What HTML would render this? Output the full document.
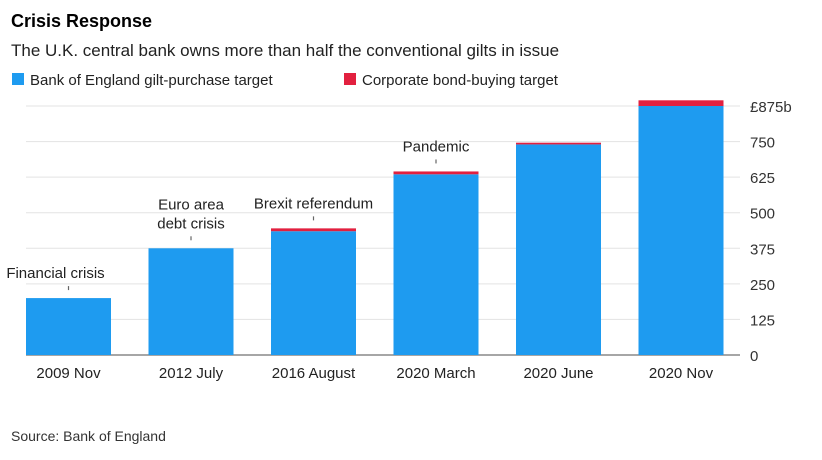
<!DOCTYPE html>
<html><head><meta charset="utf-8"><style>
body{margin:0;background:#fff;font-family:"Liberation Sans",Arial,sans-serif;}
svg text{font-family:"Liberation Sans",Arial,sans-serif;}
</style></head><body>
<svg width="822" height="455">
<text x="11" y="27" font-size="18" font-weight="bold" fill="#000">Crisis Response</text>
<text x="11" y="56" font-size="17" fill="#222">The U.K. central bank owns more than half the conventional gilts in issue</text>
<g>
<rect x="12" y="73" width="12" height="12" fill="#1e9bf0"/>
<text x="30" y="85" font-size="15" fill="#222">Bank of England gilt-purchase target</text>
<rect x="344" y="73" width="12" height="12" fill="#e2203f"/>
<text x="362" y="85" font-size="15" fill="#222">Corporate bond-buying target</text>
</g>
<g id="grid"></g><g id="bars"></g><g id="labels"></g>
<text x="11" y="441" font-size="14" fill="#333">Source: Bank of England</text>
</svg>
<script>
const categories=["2009 Nov","2012 July","2016 August","2020 March","2020 June","2020 Nov"];
const giltValues=[200,375,435,635,740,875];
const corporateValues=[0,0,10,10,6,20];
const annotations=["Financial crisis","Euro area|debt crisis","Brexit referendum","Pandemic","",""];
const yTicks=[0,125,250,375,500,625,750,875];
const yTickLabels=["0","125","250","375","500","625","750","£875b"];
const NS="http://www.w3.org/2000/svg";
const y0=355,pxPer=249/875;
const y=v=>y0-v*pxPer;
const x=i=>26+i*122.5;
const bw=85;
function mk(t,a,p){const e=document.createElementNS(NS,t);for(const k in a)e.setAttribute(k,a[k]);p.appendChild(e);return e;}
const g=document.getElementById('grid'),b=document.getElementById('bars'),l=document.getElementById('labels');
yTicks.forEach((v,i)=>{
  const ln=mk('line',{x1:26,x2:740,y1:y(v),y2:y(v),stroke:v===0?'#888':'#e3e3e3','stroke-width':v===0?1.5:1},g);
  
  
  const t=mk('text',{x:750,y:y(v)+6,'font-size':15,fill:'#333'},g);
  t.textContent=yTickLabels[i];
  
  
});
categories.forEach((c,i)=>{
  const gt=giltValues[i],ct=corporateValues[i];
  const r1=mk('rect',{x:x(i),y:y(gt),width:bw,height:y0-y(gt),fill:'#1e9bf0'},b);
  
  
  if(ct>0){
    const r2=mk('rect',{x:x(i),y:y(gt+ct),width:bw,height:y(gt)-y(gt+ct),fill:'#e2203f'},b);
    
    
  }
  const t=mk('text',{x:x(i)+bw/2,y:y0+23,'font-size':15,fill:'#222','text-anchor':'middle'},l);
  t.textContent=c;
  
  
  if(annotations[i]){
    const top=y(gt+ct);
    const lines=annotations[i].split('|');
    const tk=mk('line',{x1:x(i)+bw/2,x2:x(i)+bw/2,y1:top-12,y2:top-8,stroke:'#666','stroke-width':1.2},l);
    
    
    lines.forEach((s,k)=>{
      const a=mk('text',{x:x(i)+bw/2+(i===0?-13:0),y:top-20-(lines.length-1-k)*19,'font-size':15,fill:'#222','text-anchor':'middle'},l);
      a.textContent=s;
      
      
    });
  }
});
</script>
</body></html>
